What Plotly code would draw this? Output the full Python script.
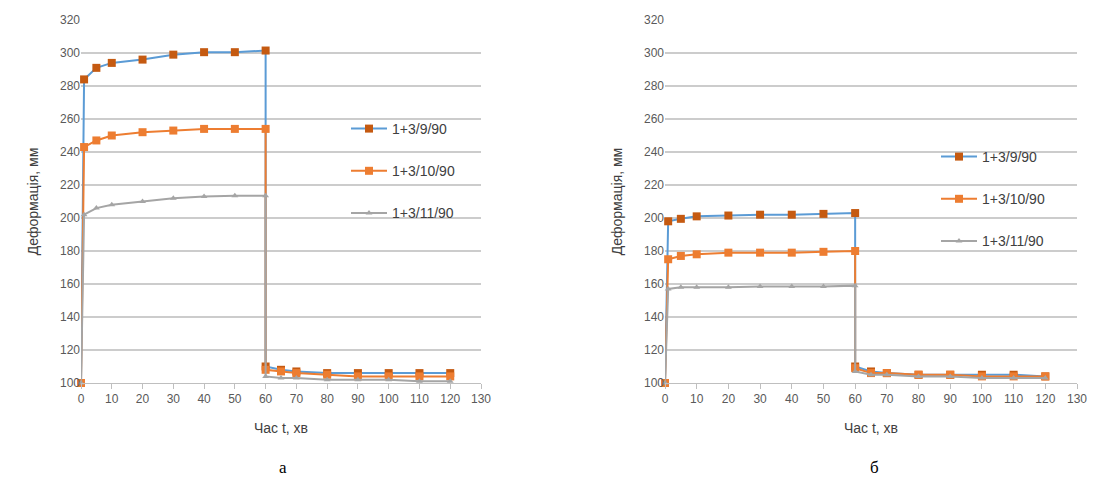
import plotly.graph_objects as go

# time points (min); 60 appears twice: before and after unloading
t = [0, 1, 5, 10, 20, 30, 40, 50, 60, 60, 65, 70, 80, 90, 100, 110, 120]

names = ["1+3/9/90", "1+3/10/90", "1+3/11/90"]

# chart "а"
a_s1 = [100, 284, 291, 294, 296, 299, 300.5, 300.5, 301.5, 110, 108, 107, 106, 106, 106, 106, 106]
a_s2 = [100, 243, 247, 250, 252, 253, 254, 254, 254, 108, 107, 106, 105, 104, 104, 104, 104]
a_s3 = [100, 202, 206, 208, 210, 212, 213, 213.5, 213.5, 104, 103, 103, 102, 102, 102, 101, 101]

# chart "б"
b_s1 = [100, 198, 199.5, 201, 201.5, 202, 202, 202.5, 203, 110, 107, 106, 105, 105, 105, 105, 104]
b_s2 = [100, 175, 177, 178, 179, 179, 179, 179.5, 180, 109, 106, 106, 105, 105, 104, 104, 104]
b_s3 = [100, 157, 158, 158, 158, 158.5, 158.5, 158.5, 159, 107, 105, 105, 104, 104, 103, 103, 103]

x_ticks = list(range(0, 131, 10))
y_ticks = list(range(100, 321, 20))
x_title = "Час t, хв"
y_title = "Деформація, мм"
captions = ["а", "б"]

line_colors = ["#5B9BD5", "#ED7D31", "#A5A5A5"]
marker_colors = ["#C55A11", "#ED7D31", "#A5A5A5"]
symbols = ["square", "square", "triangle-up"]
msizes = [8, 8, 6]

# page body has an 8px margin; figure sized so the page is 1113x484
OFF = 8
W, H = 1113 - 2 * OFF, 484 - 2 * OFF

def px(p):
    return (p - OFF) / W

def py(p):
    return 1 - (p - OFF) / H

fig = go.Figure()

for panel, (series, xa, ya, lg) in enumerate([
    ([a_s1, a_s2, a_s3], "x", "y", "legend"),
    ([b_s1, b_s2, b_s3], "x2", "y2", "legend2"),
]):
    for i, ys in enumerate(series):
        fig.add_trace(go.Scatter(
            x=t, y=ys, name=names[i], mode="lines+markers",
            xaxis=xa, yaxis=ya, legend=lg, legendgroup=f"{panel}-{i}",
            line=dict(color=line_colors[i], width=2),
            marker=dict(color=marker_colors[i], symbol=symbols[i], size=msizes[i],
                        line=dict(width=0)),
            cliponaxis=False,
        ))

tickfont = dict(family="Liberation Sans, Arial", size=12, color="#595959")
titlefont = dict(family="Liberation Sans, Arial", size=14, color="#404040")

def xaxis(domain, anchor):
    return dict(domain=domain, anchor=anchor, range=[0, 130], tickvals=x_ticks,
                showgrid=False, zeroline=False, showline=True, linecolor="#BFBFBF",
                linewidth=1, ticks="outside", ticklen=5, tickcolor="#BFBFBF",
                automargin=False,
                tickfont=tickfont, title=dict(text=x_title, font=titlefont, standoff=17))

def yaxis(domain, anchor):
    return dict(domain=domain, anchor=anchor, range=[100, 320], tickvals=y_ticks,
                showgrid=True, gridcolor="#CCCCCC", gridwidth=1.5, zeroline=False,
                showline=False, ticks="", tickfont=tickfont, automargin=False,
                title=dict(text=y_title, font=titlefont, standoff=18))

ydom = [py(383), py(20)]
legend_common = dict(font=dict(family="Liberation Sans, Arial", size=14, color="#404040"),
                     bgcolor="rgba(0,0,0,0)", tracegroupgap=21, itemwidth=36,
                     xanchor="left", yanchor="top")

cap_font = dict(family="Liberation Serif, Times New Roman", size=17, color="#000")

fig.update_layout(
    width=W, height=H,
    margin=dict(l=0, r=0, t=0, b=0, autoexpand=False),
    paper_bgcolor="white", plot_bgcolor="white",
    showlegend=True,
    xaxis=xaxis([px(81), px(481)], "y"),
    yaxis=yaxis(ydom, "x"),
    xaxis2=xaxis([px(665), px(1077)], "y2"),
    yaxis2=yaxis(ydom, "x2"),
    legend=dict(x=px(346), y=py(113), **legend_common),
    legend2=dict(x=px(936), y=py(141), **legend_common),
    annotations=[
        dict(text=captions[0], x=px(283), y=py(467), xref="paper", yref="paper",
             xanchor="center", yanchor="middle", showarrow=False, font=cap_font),
        dict(text=captions[1], x=px(875), y=py(467), xref="paper", yref="paper",
             xanchor="center", yanchor="middle", showarrow=False, font=cap_font),
    ],
)

fig.write_html("out.html")
